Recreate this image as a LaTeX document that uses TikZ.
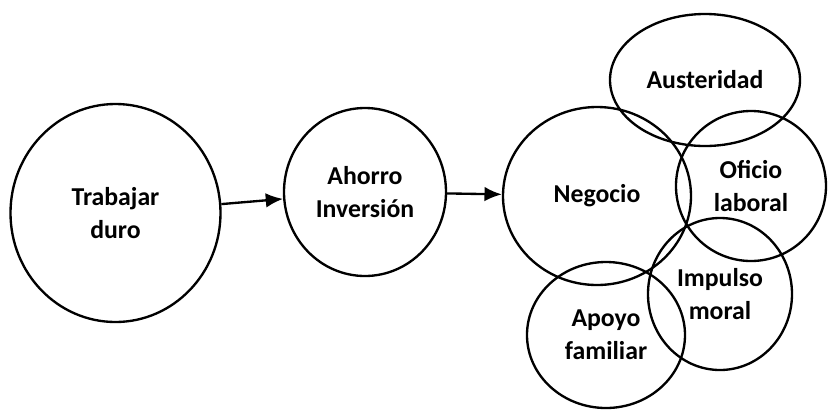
\documentclass[tikz,border=0pt]{standalone}
\usepackage{fontspec}
\setmainfont{Carlito}
\usepackage{tikz}
\usetikzlibrary{positioning}
\usetikzlibrary{shapes.geometric}
\usetikzlibrary{arrows.meta}

\begin{document}
\begin{tikzpicture}[x=0.03cm, y=-0.03cm,
    every node/.style={font=\fontsize{22}{28}\selectfont\bfseries, align=center},
    bubble/.style={draw, ellipse, line width=2pt, inner sep=0pt},
    flow/.style={line width=2pt, -{Latex[length=5.2mm, width=4.4mm]}}]
  \useasboundingbox (0, 0) rectangle (828, 409);

  % cadena principal
  \node[bubble, minimum width=6.3cm, minimum height=6.54cm] (trabajar) at (115.5, 213) {Trabajar\\duro};
  \node[bubble, minimum width=4.86cm, minimum height=5.04cm] (ahorro) at (365, 192) {Ahorro\\Inversión};
  \node[bubble, minimum width=5.64cm, minimum height=5.34cm] (negocio) at (597, 196) {Negocio};

  % valores alrededor del negocio
  \node[bubble, minimum width=5.7cm, minimum height=3.96cm] (austeridad) at (705, 80) {Austeridad};
  \node[bubble, minimum width=4.5cm, minimum height=4.5cm] (oficio) at (751, 186) {Oficio\\laboral};
  \node[bubble, minimum width=4.32cm, minimum height=4.56cm] (impulso) at (720, 294) {Impulso\\moral};
  \node[bubble, minimum width=4.74cm, minimum height=4.38cm] (apoyo) at (606, 335) {Apoyo\\familiar};

  \draw[flow] (trabajar) -- (ahorro);
  \draw[flow] (ahorro) -- (negocio);
\end{tikzpicture}
\end{document}
